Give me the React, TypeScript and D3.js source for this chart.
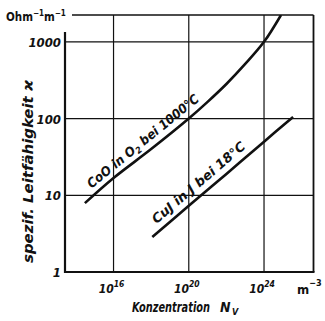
import React from "react";
import * as d3 from "d3";

// ---- data ----
const coNv = [3e14, 1e16, 1e18, 1e20, 1e21, 1e22, 1e23, 1e24, 8e24];
const coSigma = [7.9, 16.8, 40, 100, 165, 282, 515, 1000, 2240];
const cuNv = [1.15e18, 1e20, 1e22, 1e24, 3.5e25];
const cuSigma = [2.86, 7.3, 19, 50, 105];
const xTickExps = [16, 20, 24];
const yTicks = [1, 10, 100, 1000];
const coLabelA = "CoO in O";
const coLabelB = " bei 1000°C";
const cuLabel = "CuJ in J bei 18°C";
const yTitle = "spezif. Leitfähigkeit ϰ";
const xTitle = "Konzentration";

const W = 325;
const H = 321;
const left = 65, right = 313.5, top = 15, bottom = 272;
const FONT = "'Liberation Sans Narrow', 'DejaVu Sans Condensed', 'Roboto Condensed', 'Liberation Sans', sans-serif";

export default function App() {
  const x = d3.scaleLog().domain([10 ** 13.42, 10 ** 26.63]).range([left, right]);
  const y = d3.scaleLog().domain([1, 10 ** 3.35]).range([bottom, top]);

  const line = d3
    .line<[number, number]>()
    .x((d) => x(d[0]))
    .y((d) => y(d[1]))
    .curve(d3.curveCatmullRom.alpha(0.5));

  const coPts: [number, number][] = coNv.map((n, i) => [n, coSigma[i]]);
  const cuPts: [number, number][] = cuNv.map((n, i) => [n, cuSigma[i]]);

  // label geometry
  const ca = [x(coNv[0]), y(coSigma[0])];
  const cb = [x(coNv[3]), y(coSigma[3])];
  const coAng = (Math.atan2(cb[1] - ca[1], cb[0] - ca[0]) * 180) / Math.PI;
  const cuA = [x(cuNv[0]), y(cuSigma[0])];
  const cuB = [x(cuNv[4]), y(cuSigma[4])];
  const cuAng = (Math.atan2(cuB[1] - cuA[1], cuB[0] - cuA[0]) * 180) / Math.PI;
  const pointOn = (p: number[], q: number[], px: number) => [px, p[1] + ((q[1] - p[1]) * (px - p[0])) / (q[0] - p[0])];
  const coStart = pointOn(ca, cb, 96);
  const cuStart = pointOn(cuA, cuB, 161);

  const txt = { fontFamily: FONT, fontStyle: "italic", fontWeight: 700, fill: "#111" } as const;

  return (
    <svg width={W} height={H} style={{ position: "absolute", left: 0, top: 0, background: "#fff" }}>
      <defs>
        <clipPath id="plot">
          <rect x={left} y={top} width={right - left} height={bottom - top} />
        </clipPath>
      </defs>
      {/* grid */}
      {xTickExps.map((e) => (
        <line key={"gx" + e} x1={x(10 ** e)} x2={x(10 ** e)} y1={top} y2={bottom} stroke="#111" strokeWidth={1.2} />
      ))}
      {yTicks.slice(1).map((v) => (
        <line key={"gy" + v} x1={left} x2={right} y1={y(v)} y2={y(v)} stroke="#111" strokeWidth={1.2} />
      ))}
      {/* frame */}
      <line x1={72} x2={right} y1={top} y2={top} stroke="#111" strokeWidth={1.6} />
      <line x1={right} x2={right} y1={top} y2={bottom} stroke="#111" strokeWidth={1.8} />
      <line x1={left} x2={right + 1} y1={bottom} y2={bottom} stroke="#111" strokeWidth={2.2} />
      <line x1={left} x2={left} y1={32} y2={bottom + 1} stroke="#111" strokeWidth={2.2} />

      {/* curves */}
      <g clipPath="url(#plot)">
        <path d={line(coPts) || ""} fill="none" stroke="#111" strokeWidth={2.6} />
        <path d={line(cuPts) || ""} fill="none" stroke="#111" strokeWidth={2.6} />
      </g>

      {/* curve labels */}
      <g transform={`translate(${coStart[0]},${coStart[1]}) rotate(${coAng})`}>
        <text {...txt} x={0} y={-7} fontSize={13}>
          <tspan textLength={58} lengthAdjust="spacingAndGlyphs">{coLabelA}</tspan>
          <tspan fontSize={9} dy={3}>2</tspan>
          <tspan dy={-3} textLength={76} lengthAdjust="spacingAndGlyphs">{coLabelB}</tspan>
        </text>
      </g>
      <g transform={`translate(${cuStart[0]},${cuStart[1]}) rotate(${cuAng})`}>
        <text {...txt} x={0} y={-7} fontSize={13} textLength={118} lengthAdjust="spacingAndGlyphs">
          {cuLabel}
        </text>
      </g>

      {/* y tick labels */}
      {yTicks.map((v) => (
        <text key={"yl" + v} {...txt} x={61} y={y(v) + 5} fontSize={13} textAnchor="end">
          {v}
        </text>
      ))}
      {/* unit top-left */}
      <text {...txt} fontStyle="normal" x={6} y={21} fontSize={11.5}>
        Ohm<tspan fontSize={8} dy={-5}>−1</tspan>
        <tspan dy={5}>m</tspan>
        <tspan fontSize={8} dy={-5}>−1</tspan>
      </text>

      {/* x tick labels */}
      {xTickExps.map((e) => (
        <text key={"xl" + e} {...txt} x={x(10 ** e) - 2} y={293} fontSize={12} textAnchor="middle">
          10<tspan fontSize={8.5} dy={-6}>{e}</tspan>
        </text>
      ))}
      <text {...txt} fontStyle="normal" x={297} y={294} fontSize={13}>
        m<tspan fontSize={9} dy={-8}>−3</tspan>
      </text>

      {/* axis titles */}
      <text {...txt} x={132} y={312} fontSize={14} textLength={78} lengthAdjust="spacingAndGlyphs">
        {xTitle}
      </text>
      <text {...txt} x={220} y={312} fontSize={14}>
        N<tspan fontSize={9} dx={1.5} dy={3}>V</tspan>
      </text>
      <text
        {...txt}
        transform={`translate(33,263) rotate(-90)`}
        x={0}
        y={0}
        fontSize={14}
        textLength={183}
        lengthAdjust="spacingAndGlyphs"
      >
        {yTitle}
      </text>
    </svg>
  );
}
